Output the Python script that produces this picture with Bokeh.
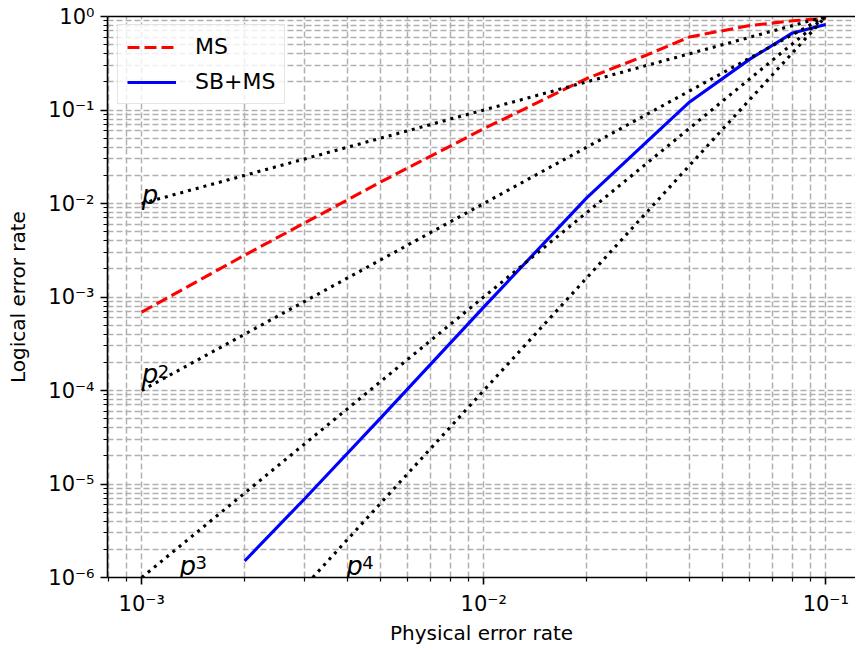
import numpy as np
from bokeh.plotting import figure
from bokeh.models import (Range1d, LogAxis, FixedTicker, CustomJSTickFormatter,
                          Legend, LegendItem, ColumnDataSource, Title)
from bokeh.core.properties import value
from bokeh.embed import file_html
from bokeh.resources import INLINE

# ---- data ----
ms_p = [0.001, 0.002, 0.005, 0.01, 0.02, 0.03, 0.04, 0.06, 0.08, 0.1]
ms_rate = [6.9e-4, 2.8e-3, 1.7e-2, 6.3e-2, 0.217, 0.388, 0.605, 0.80, 0.90, 0.95]

sbms_p = [0.002, 0.003, 0.005, 0.01, 0.02, 0.03, 0.04, 0.06, 0.08, 0.1]
sbms_rate = [1.5e-6, 7.0e-6, 5.1e-5, 7.8e-4, 1.15e-2, 4.6e-2, 0.122, 0.35, 0.667, 0.82]

# guide lines c * p^k
guide_order = [1, 2, 3, 4]
guide_coef = [1e1, 1e2, 1e3, 1e4]
guide_start = [1e-3, 1e-3, 1e-3, 10 ** -2.5]
guide_end = [0.1, 0.1, 0.1, 0.1]

label_base = ["p", "p", "p", "p"]
label_sup = ["", "2", "3", "4"]
label_x = [1e-3, 1e-3, 1.29e-3, 3.96e-3]
label_y = [1e-2, 1.2e-4, 1.07e-6, 1.07e-6]

x_major = [1e-3, 1e-2, 1e-1]
x_minor = [k * 10.0 ** n for n in range(-4, 0) for k in range(2, 10)]
y_major = [10.0 ** n for n in range(-6, 1)]
y_minor = [k * 10.0 ** n for n in range(-7, 0) for k in range(2, 10)]

x_title = "Physical error rate"
y_title = "Logical error rate"

FONT = "DejaVu Sans"

p = figure(width=855, height=644, x_axis_type="log", y_axis_type="log",
           x_range=Range1d(10 ** -3.1, 10 ** -0.913), y_range=Range1d(1e-6, 1),
           output_backend="svg", toolbar_location=None,
           min_border_left=107, min_border_right=0, min_border_top=16,
           min_border_bottom=66)
p.outline_line_color = None
p.background_fill_color = "white"
p.border_fill_color = "white"

fmt = CustomJSTickFormatter(code="""
const sup = {"-":"\u207b","0":"\u2070","1":"\u00b9","2":"\u00b2","3":"\u00b3",
             "4":"\u2074","5":"\u2075","6":"\u2076","7":"\u2077","8":"\u2078","9":"\u2079"};
const e = Math.round(Math.log10(tick));
return "10" + String(e).split("").map(c => sup[c]).join("");
""")

xt = FixedTicker(ticks=x_major, minor_ticks=x_minor)
yt = FixedTicker(ticks=y_major, minor_ticks=y_minor)
p.xaxis.ticker = xt
p.xgrid.ticker = xt
p.yaxis.ticker = yt
p.ygrid.ticker = yt

for ax in (p.xaxis[0], p.yaxis[0]):
    ax.formatter = fmt
    ax.axis_line_width = 1.6
    ax.axis_line_color = "black"
    ax.major_tick_out = 7
    ax.major_tick_in = 0
    ax.minor_tick_out = 4
    ax.minor_tick_in = 0
    ax.major_tick_line_width = 1.6
    ax.minor_tick_line_width = 1.2
    ax.major_tick_line_color = "black"
    ax.minor_tick_line_color = "black"
    ax.major_label_text_font = FONT
    ax.major_label_text_font_size = "21px"
    ax.major_label_text_color = "black"
    ax.major_label_standoff = 6
    ax.axis_label_text_font = FONT
    ax.axis_label_text_font_size = "20px"
    ax.axis_label_text_font_style = "normal"
    ax.axis_label_text_color = "black"

p.xaxis.major_label_standoff = 7
p.yaxis.axis_label = y_title
p.yaxis.axis_label_standoff = 15

xtitle = Title(text=x_title, align="center", text_font=FONT, text_font_size="20px",
               text_font_style="normal", text_color="black", standoff=0, offset=0)
p.add_layout(xtitle, "below")

top = LogAxis(ticker=FixedTicker(ticks=[]), major_label_standoff=0,
              major_tick_out=0, minor_tick_out=0, major_tick_in=0, minor_tick_in=0,
              axis_line_width=1.6, axis_line_color="black",
              major_label_text_font_size="0px")
p.add_layout(top, "above")

for g in (p.xgrid[0], p.ygrid[0]):
    g.grid_line_color = "#b0b0b0"
    g.grid_line_width = 1.5
    g.grid_line_dash = "6 3"
    g.minor_grid_line_color = "#b0b0b0"
    g.minor_grid_line_width = 1.5
    g.minor_grid_line_dash = "6 3"

r_ms = p.line(ms_p, ms_rate, line_color="#ff0000", line_width=3.1, line_dash="12 5")
r_sb = p.line(sbms_p, sbms_rate, line_color="#0000ff", line_width=3.1)

for k, c, s, e in zip(guide_order, guide_coef, guide_start, guide_end):
    xs = [s, e]
    ys = [c * v ** k for v in xs]
    p.line(xs, ys, line_color="black", line_width=3.1, line_dash="3 5")

src = ColumnDataSource(dict(x=label_x, y=label_y, base=label_base, sup=label_sup))
p.text(x="x", y="y", text="base", source=src, text_font=value(FONT),
       text_font_style="italic", text_font_size="26px", text_baseline="bottom",
       text_align="left", text_color="black", y_offset=6)
p.text(x="x", y="y", text="sup", source=src, text_font=value(FONT),
       text_font_size="18px", text_baseline="alphabetic", text_align="left",
       text_color="black", x_offset=16, y_offset=-12)

legend = Legend(items=[LegendItem(label="MS", renderers=[r_ms]),
                       LegendItem(label="SB+MS", renderers=[r_sb])],
                location=(10, 473), margin=0, padding=9, spacing=10,
                label_height=24, glyph_height=24, glyph_width=49, label_standoff=19,
                label_text_font=FONT, label_text_font_size="22px",
                label_text_color="black",
                border_line_color="#cccccc", border_line_width=1.5,
                background_fill_color="white", background_fill_alpha=0.8)
p.add_layout(legend, "center")

open("out.html", "w").write(file_html(p, INLINE))
